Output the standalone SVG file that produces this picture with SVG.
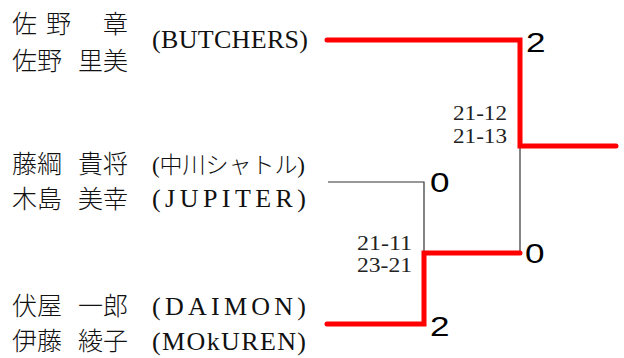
<svg xmlns="http://www.w3.org/2000/svg" width="624" height="358" viewBox="0 0 624 358">
<style>
.nm{font-family:"Noto Sans CJK JP","Noto Sans CJK SC",sans-serif;font-size:25px;font-weight:300;fill:#111}
.tm{font-family:"Liberation Serif","Noto Sans CJK JP",serif;font-size:26px;fill:#111}
.tj{font-family:"Liberation Serif","Noto Sans CJK JP",serif;font-size:23px;font-weight:300;fill:#111}
.sc{font-family:"Liberation Serif",serif;font-size:20px;fill:#222}
.res{font-family:"Liberation Sans",Arial,sans-serif;font-size:27px;fill:#000}
.win{fill:none;stroke:#ff0000;stroke-width:5;stroke-linecap:round;stroke-linejoin:miter}
.lose{fill:none;stroke:#333;stroke-width:1.2}
</style>
<rect width="624" height="358" fill="#fff"/>
<g id="connectors">
<path class="lose" d="M328,182 H424 V253"/>
<path class="lose" d="M520,146 V253"/>
<path class="win" d="M327,40 H520 V146 H616"/>
<path class="win" d="M327,324 H424 V253 H520"/>
</g>
<g id="team-butchers">
<text class="nm" x="12" y="33">佐</text>
<text class="nm" x="46" y="33">野</text>
<text class="nm" x="103" y="33">章</text>
<text class="nm" x="12" y="70">佐野</text>
<text class="nm" x="78" y="70">里美</text>
<text class="tm" x="152" y="48" textLength="156" lengthAdjust="spacing">(BUTCHERS)</text>
</g>
<g id="team-nakagawa-jupiter">
<text class="nm" x="12" y="173">藤綱</text>
<text class="nm" x="78" y="173">貴将</text>
<text class="tj" x="152" y="173" textLength="153" lengthAdjust="spacing">(中川シャトル)</text>
<text class="nm" x="12" y="208">木島</text>
<text class="nm" x="78" y="208">美幸</text>
<text class="tm" x="152" y="207" textLength="154" lengthAdjust="spacing">(JUPITER)</text>
</g>
<g id="team-daimon-mokuren">
<text class="nm" x="12" y="315">伏屋</text>
<text class="nm" x="78" y="315">一郎</text>
<text class="tm" x="152" y="315" textLength="154" lengthAdjust="spacing">(DAIMON)</text>
<text class="nm" x="12" y="350">伊藤</text>
<text class="nm" x="78" y="350">綾子</text>
<text class="tm" x="152" y="350" textLength="154" lengthAdjust="spacing">(MOkUREN)</text>
</g>
<g id="match-semi">
<text class="sc" x="357" y="250" textLength="55" lengthAdjust="spacingAndGlyphs">21-11</text>
<text class="sc" x="357" y="272" textLength="55" lengthAdjust="spacingAndGlyphs">23-21</text>
<text class="res" transform="translate(430,192) scale(1.3,1)">0</text>
<text class="res" transform="translate(430,336) scale(1.3,1)">2</text>
</g>
<g id="match-final">
<text class="sc" x="453" y="120" textLength="54" lengthAdjust="spacingAndGlyphs">21-12</text>
<text class="sc" x="453" y="143" textLength="54" lengthAdjust="spacingAndGlyphs">21-13</text>
<text class="res" transform="translate(526,52) scale(1.3,1)">2</text>
<text class="res" transform="translate(525,263) scale(1.3,1)">0</text>
</g>
</svg>
